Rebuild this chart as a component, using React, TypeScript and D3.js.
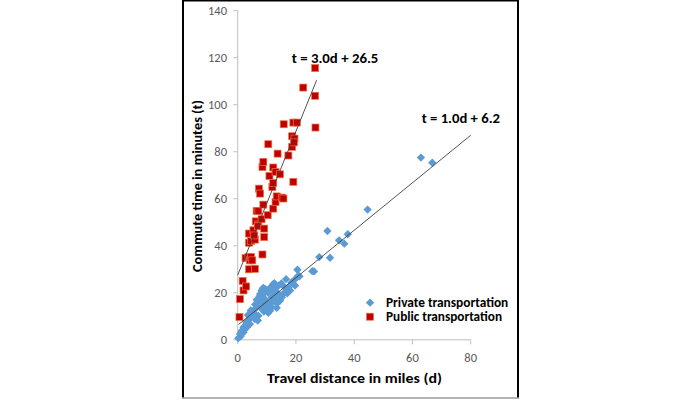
import React from "react";
import * as d3 from "d3";

const xTicks = [0, 20, 40, 60, 80];
const yTicks = [0, 20, 40, 60, 80, 100, 120, 140];

const privateData: [number, number][] = [
  [0.2, 0.7], [0.8, 2.5], [1.4, 3.9], [2.0, 5.3], [2.5, 6.0], [3.1, 6.7], [3.6, 8.1], [4.2, 9.5],
  [4.8, 11.7], [5.4, 12.4], [5.9, 11.0], [6.5, 13.8], [7.1, 15.2], [7.7, 16.6], [8.2, 18.0],
  [8.8, 19.5], [9.4, 20.2], [8.2, 20.9], [7.7, 19.5], [10.0, 15.9], [11.1, 15.2], [11.7, 18.0],
  [12.2, 23.7], [12.8, 22.3], [13.4, 20.2], [13.4, 13.6], [14.5, 16.6], [15.1, 18.0], [15.7, 19.5],
  [16.2, 20.2], [16.8, 21.6], [17.4, 22.3], [18.5, 24.4], [19.7, 25.8], [20.8, 27.3], [21.2, 27.0],
  [20.5, 29.8], [8.8, 13.8], [10.0, 13.1], [10.5, 14.5], [7.1, 10.2], [5.9, 8.8], [6.9, 8.2],
  [11.1, 12.4], [11.7, 13.8], [4.2, 6.7], [3.1, 5.3], [2.0, 3.2], [12.2, 16.6], [13.4, 17.3],
  [12.8, 19.5], [9.4, 17.3], [4.8, 10.2], [5.4, 9.5], [8.8, 22.1], [12.6, 24.1], [16.6, 25.8],
  [7.7, 13.8], [8.2, 15.2], [18.9, 23.9], [19.7, 23.1],
  [3.5, 10.5], [4.5, 12.5], [6.0, 15.0], [6.5, 17.0], [7.5, 18.5], [8.5, 21.5], [9.5, 21.5],
  [10.5, 20.0], [11.0, 22.0], [12.0, 21.0], [14.0, 23.0], [15.0, 24.0], [16.0, 22.5], [17.0, 19.8],
  [18.0, 21.0], [13.5, 15.5], [14.5, 19.0], [10.5, 11.5], [9.0, 12.0], [6.0, 10.0], [3.0, 7.5],
  [2.5, 4.5], [1.0, 1.5], [1.5, 2.8],
  [25.6, 29.2], [26.2, 29.1], [28.0, 35.2], [31.7, 34.9], [30.8, 46.3], [34.8, 42.3],
  [36.6, 40.9], [37.8, 44.9], [44.6, 55.4], [62.9, 77.5], [66.8, 75.3],
];

const publicData: [number, number][] = [
  [0.6, 9.7], [0.8, 17.3], [1.7, 25], [2.0, 21], [2.9, 22.7], [2.7, 34.8], [3.7, 35.2], [3.9, 30],
  [4.2, 33.8], [4.6, 35.2], [5.0, 33.8], [3.9, 41.3], [4.6, 42], [3.9, 45.2], [5.4, 46.6],
  [5.9, 42.6], [5.9, 30.2], [5.7, 44.4], [6.2, 50.4], [6.5, 54.8], [7.1, 54.8], [7.1, 49],
  [6.9, 48.3], [8.2, 51.3], [8.8, 57.5], [8.5, 36.3], [9.1, 47.3], [9.1, 43.7], [7.3, 64.3],
  [7.7, 62.2], [10.3, 53], [8.5, 73.5], [8.8, 75.7], [10.5, 83.2], [10.9, 69.7], [11.9, 65],
  [12.2, 66.7], [12.2, 73.3], [13.0, 71.4], [12.2, 55.8], [13.0, 58.6], [13.4, 61], [13.7, 79.2],
  [14.5, 70.4], [15.2, 60.5], [15.7, 60.1], [15.8, 91.7], [17.4, 78.4], [18.7, 82.1], [18.7, 86.6],
  [19.5, 85.6], [19.3, 84], [19.1, 92.4], [20.3, 92.4], [19.1, 67.2], [22.5, 107.3], [26.6, 115.6],
  [26.6, 103.8], [26.7, 90.3],
];

// trendline: [slope, intercept, dStart, dEnd]
const privateFit = [1.01, 6.2, 0.3, 80];
const publicFit = [3.06, 27.5, 0, 27.1];

const privateLabel = "t = 1.0d + 6.2";
const publicLabel = "t = 3.0d + 26.5";
const seriesNames = ["Private transportation", "Public transportation"];

const BLUE = "#5B9BD5";
const RED = "#C00000";
const RED_STROKE = "#EE7040";

export default function App() {
  const x = d3.scaleLinear().domain([0, 80]).range([237.7, 470.7]);
  const y = d3.scaleLinear().domain([0, 140]).range([339.8, 10.7]);
  const font = "Calibri, Carlito, 'Open Sans', 'Liberation Sans', sans-serif";
  const line = d3.line<number>().x((d) => x(d[0])).y((d) => y(d[1]));
  const fitPts = (f: number[]) => [[f[2], f[0] * f[2] + f[1]], [f[3], f[0] * f[3] + f[1]]] as any;
  const dia = 5.9;
  const sq = 7;

  return (
    <svg width={700} height={401} style={{ position: "absolute", left: 0, top: 0, background: "#fff" }}>
      <rect x={0} y={0} width={700} height={401} fill="#fff" />
      {/* frame */}
      <line x1={183} y1={0.5} x2={518} y2={0.5} stroke="#000" strokeWidth={2} />
      <line x1={183} y1={0} x2={183} y2={398} stroke="#000" strokeWidth={2} />
      <line x1={518} y1={0} x2={518} y2={398} stroke="#000" strokeWidth={2} />
      <line x1={182} y1={398} x2={519} y2={398} stroke="#9a9a9a" strokeWidth={1.5} />

      {/* axes */}
      <line x1={x(0)} y1={y(0)} x2={x(0)} y2={y(140)} stroke="#bfbfbf" strokeWidth={1} />
      <line x1={x(0)} y1={y(0)} x2={x(80)} y2={y(0)} stroke="#bfbfbf" strokeWidth={1} />
      {yTicks.map((t) => (
        <g key={"y" + t}>
          <line x1={x(0) - 4.5} x2={x(0)} y1={y(t)} y2={y(t)} stroke="#bfbfbf" />
          <text x={227} y={y(t)} dy="0.35em" textAnchor="end" fontSize={12.5} fill="#595959" fontFamily={font}>
            {t}
          </text>
        </g>
      ))}
      {xTicks.map((t) => (
        <g key={"x" + t}>
          <line x1={x(t)} x2={x(t)} y1={y(0)} y2={y(0) + 4.5} stroke="#bfbfbf" />
          <text x={x(t)} y={357.5} dy="0.35em" textAnchor="middle" fontSize={12.5} fill="#595959" fontFamily={font}>
            {t}
          </text>
        </g>
      ))}

      {/* axis titles */}
      <text
        transform="translate(197,186) rotate(-90)"
        textAnchor="middle"
        dy="0.35em"
        fontSize={14.5}
        fontWeight="bold"
        fill="#000"
        fontFamily={font}
        textLength={172}
        lengthAdjust="spacingAndGlyphs"
      >
        Commute time in minutes (t)
      </text>
      <text
        x={354.5}
        y={378}
        dy="0.35em"
        textAnchor="middle"
        fontSize={14.5}
        fontWeight="bold"
        fill="#000"
        fontFamily={font}
        textLength={175}
        lengthAdjust="spacingAndGlyphs"
      >
        Travel distance in miles (d)
      </text>

      {/* points */}
      {privateData.map((d, i) => (
        <rect
          key={"p" + i}
          x={-dia / 2}
          y={-dia / 2}
          width={dia}
          height={dia}
          fill={BLUE}
          transform={`translate(${x(d[0])},${y(d[1])}) rotate(45)`}
        />
      ))}
      {publicData.map((d, i) => (
        <rect
          key={"q" + i}
          x={x(d[0]) - sq / 2}
          y={y(d[1]) - sq / 2}
          width={sq}
          height={sq}
          fill={RED}
          stroke={RED_STROKE}
          strokeWidth={0.7}
        />
      ))}

      {/* trendlines */}
      <path d={line(fitPts(privateFit)) || ""} stroke="#404040" strokeWidth={0.9} fill="none" />
      <path d={line(fitPts(publicFit)) || ""} stroke="#404040" strokeWidth={0.9} fill="none" />

      {/* equation labels */}
      <text x={291.7} y={58.5} dy="0.35em" fontSize={14} fontWeight="bold" fill="#000" fontFamily={font} textLength={86.7} lengthAdjust="spacingAndGlyphs">
        {publicLabel}
      </text>
      <text x={421.7} y={118.5} dy="0.35em" fontSize={14} fontWeight="bold" fill="#000" fontFamily={font} textLength={78.3} lengthAdjust="spacingAndGlyphs">
        {privateLabel}
      </text>

      {/* legend */}
      <rect x={-dia / 2} y={-dia / 2} width={dia} height={dia} fill={BLUE} transform="translate(370,302.7) rotate(45)" />
      <rect x={370 - sq / 2} y={316.7 - sq / 2} width={sq} height={sq} fill={RED} stroke={RED_STROKE} strokeWidth={0.7} />
      <text x={386} y={302.7} dy="0.35em" fontSize={13} fontWeight="bold" fill="#000" fontFamily={font} textLength={122.3} lengthAdjust="spacingAndGlyphs">
        {seriesNames[0]}
      </text>
      <text x={386} y={316.7} dy="0.35em" fontSize={13} fontWeight="bold" fill="#000" fontFamily={font} textLength={116} lengthAdjust="spacingAndGlyphs">
        {seriesNames[1]}
      </text>
    </svg>
  );
}
